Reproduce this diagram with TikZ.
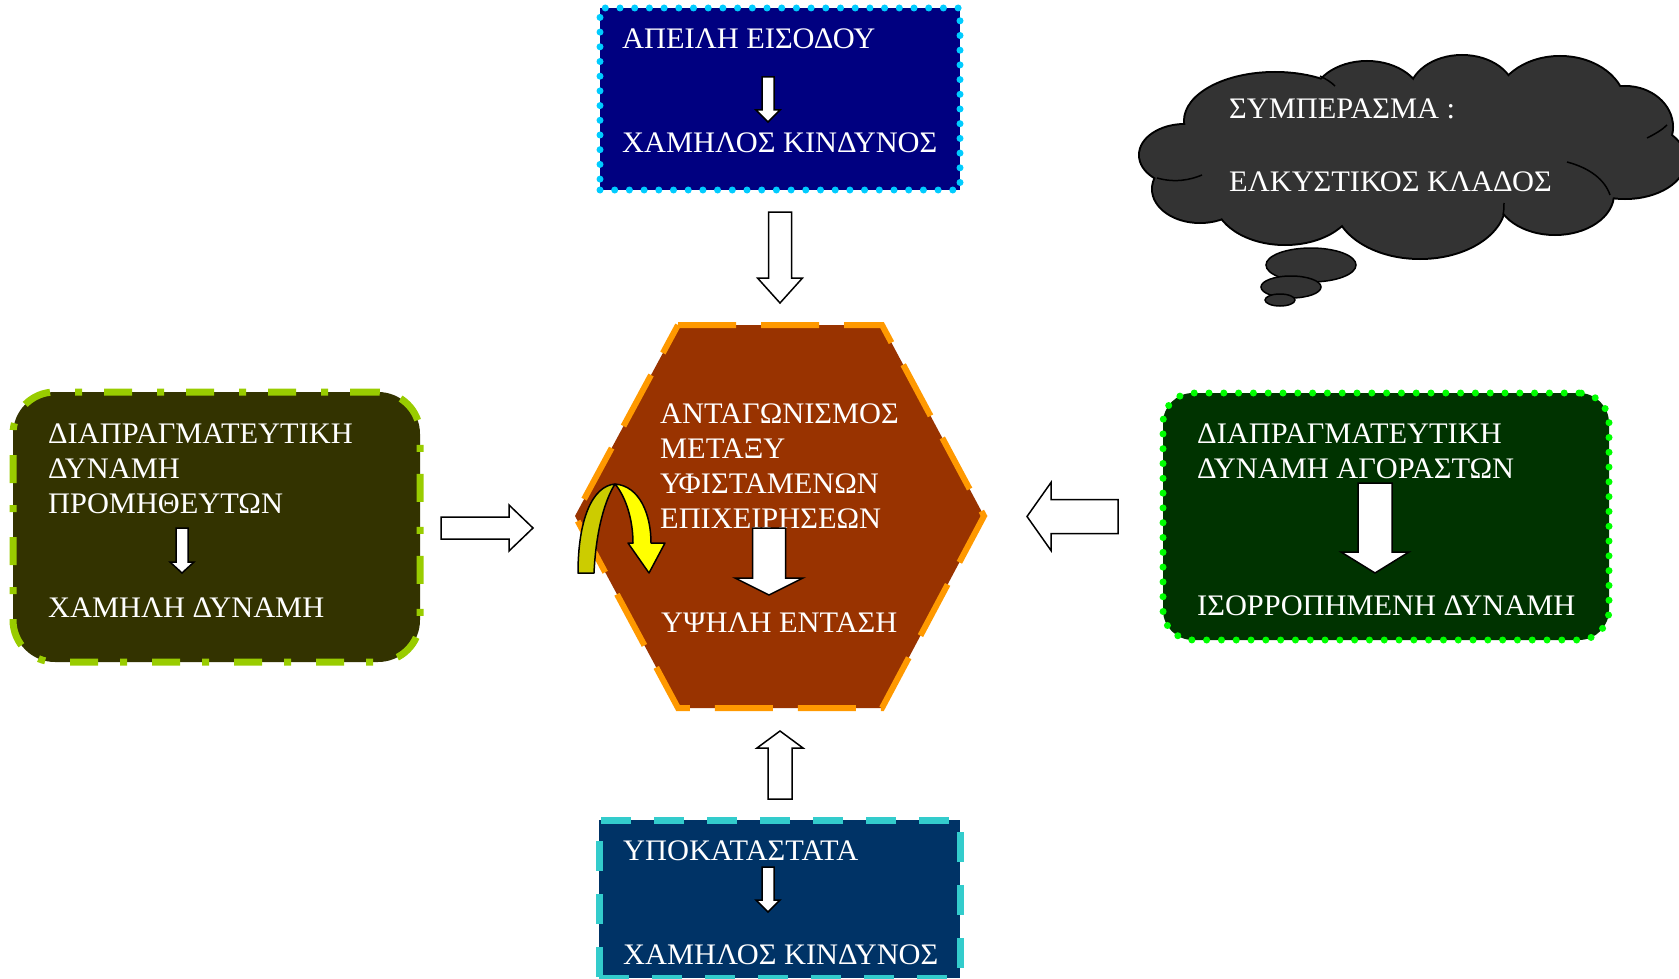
\documentclass[tikz,border=0pt]{standalone}
\usepackage{fontspec}
\setmainfont{Liberation Serif}[FakeStretch=1.02]
\definecolor{entryfill}{HTML}{000080}
\definecolor{entryline}{HTML}{00CCFF}
\definecolor{rivalfill}{HTML}{993300}
\definecolor{rivalline}{HTML}{FF9900}
\definecolor{supfill}{HTML}{333300}
\definecolor{supline}{HTML}{99CC00}
\definecolor{buyfill}{HTML}{003300}
\definecolor{buyline}{HTML}{00FF00}
\definecolor{subfill}{HTML}{003366}
\definecolor{subline}{HTML}{33CCCC}
\definecolor{cloudfill}{HTML}{333333}
\definecolor{ylwdark}{HTML}{CCCC00}
\definecolor{ylwbright}{HTML}{FFFF00}

% block arrow: tail centre x, y, direction, length, shaft half-width, head half-width, head length
\newcommand{\blockarr}[7]{%
  \begin{scope}[shift={(#1,#2)},rotate=#3]
    \draw[barrow] (0,-#5) -- ({#4-#7},-#5) -- ({#4-#7},-#6) -- (#4,0)
      -- ({#4-#7},#6) -- ({#4-#7},#5) -- (0,#5) -- cycle;
  \end{scope}}

% lobes of the thought cloud
\newcommand{\cloudlobes}[1]{%
  \path[#1] (1185,155) ellipse [x radius=45, y radius=30];
  \path[#1] (1275,121) ellipse [x radius=90, y radius=48];
  \path[#1] (1367,102) ellipse [x radius=55, y radius=40];
  \path[#1] (1462,94)  ellipse [x radius=52, y radius=38];
  \path[#1] (1560,107) ellipse [x radius=65, y radius=50];
  \path[#1] (1625,127) ellipse [x radius=47, y radius=40];
  \path[#1] (1625,160) ellipse [x radius=60, y radius=38];
  \path[#1] (1555,194) ellipse [x radius=58, y radius=40];
  \path[#1] (1420,202) ellipse [x radius=85, y radius=56];
  \path[#1] (1285,198) ellipse [x radius=70, y radius=46];
  \path[#1] (1200,189) ellipse [x radius=47, y radius=33];
  \path[#1] (1400,150) ellipse [x radius=200, y radius=60];}

\begin{document}
\begin{tikzpicture}[x=1pt,y=-1pt,
  txt/.style={text=white, inner sep=0pt, anchor=base west,
    font=\fontsize{29.8}{35}\selectfont},
  barrow/.style={draw=black, fill=white, line width=1.5pt, line join=miter},
  boxbase/.style={rectangle, inner sep=0pt, line width=7pt},
  entrybox/.style={boxbase, fill=entryfill, draw=entryline,
    dash pattern=on 0pt off 14.7pt, line cap=round},
  supbox/.style={boxbase, fill=supfill, draw=supline, rounded corners=42pt,
    dash pattern=on 28pt off 22pt on 7pt off 25pt},
  buybox/.style={boxbase, fill=buyfill, draw=buyline, rounded corners=30pt,
    dash pattern=on 0pt off 14.8pt, line cap=round},
  subbox/.style={boxbase, fill=subfill, draw=subline,
    dash pattern=on 30pt off 23pt},
  hexborder/.style={fill=rivalfill, draw=rivalline, line width=6pt,
    dash pattern=on 58pt off 25pt},
  bubble/.style={fill=cloudfill, draw=black, line width=1.5pt},
  yarrow/.style={draw=black, line width=1.5pt, line join=round}]
\useasboundingbox (0,0) rectangle (1679,979);

% the five forces
\node[entrybox, minimum width=360pt, minimum height=182pt] (entry) at (780,99) {};
\node[supbox, minimum width=407pt, minimum height=270pt] (suppliers) at (216.5,527) {};
\node[buybox, minimum width=446pt, minimum height=247pt] (buyers) at (1386,516.5) {};
\node[subbox, minimum width=361pt, minimum height=158pt] (substitutes) at (779.5,899) {};
\draw[hexborder] (678,325) -- (882,325) -- (984,516) -- (882,708) -- (678,708) -- (575,516) -- cycle;
\coordinate (rival) at (780,516);

% thought cloud with its trailing bubbles
\cloudlobes{draw=black, line width=4pt}
\cloudlobes{fill=cloudfill}
\coordinate (verdict) at (1400,150);
\draw[line width=1.5pt] (1157,178) .. controls (1175,183) and (1190,180) .. (1202,175);
\draw[line width=1.5pt] (1567,162) .. controls (1590,168) and (1605,180) .. (1610,195);
\draw[line width=1.5pt] (1647,138) .. controls (1655,134) and (1662,130) .. (1667,125);
\draw[line width=1.5pt] (1320,76) .. controls (1326,79) and (1331,82) .. (1335,86);
\draw[line width=1.5pt] (1503,215) .. controls (1504,210) and (1504,207) .. (1504,203);
\path[bubble] (1311,265) ellipse [x radius=45, y radius=17];
\path[bubble] (1291,287) ellipse [x radius=30, y radius=11];
\path[bubble] (1280,300) ellipse [x radius=15, y radius=6];

% texts
\node[txt] (entryA) at (622,49) {ΑΠΕΙΛΗ ΕΙΣΟΔΟΥ};
\node[txt] (entryB) at (622,153) {ΧΑΜΗΛΟΣ ΚΙΝΔΥΝΟΣ};
\node[txt] (supA) at (48,443) {\begin{tabular}[t]{@{}l@{}}ΔΙΑΠΡΑΓΜΑΤΕΥΤΙΚΗ\\ΔΥΝΑΜΗ\\ΠΡΟΜΗΘΕΥΤΩΝ\end{tabular}};
\node[txt] (supB) at (48,617) {ΧΑΜΗΛΗ ΔΥΝΑΜΗ};
\node[txt] (buyA) at (1197,443) {\begin{tabular}[t]{@{}l@{}}ΔΙΑΠΡΑΓΜΑΤΕΥΤΙΚΗ\\ΔΥΝΑΜΗ ΑΓΟΡΑΣΤΩΝ\end{tabular}};
\node[txt] (buyB) at (1197,615) {ΙΣΟΡΡΟΠΗΜΕΝΗ ΔΥΝΑΜΗ};
\node[txt] (subA) at (623,860) {ΥΠΟΚΑΤΑΣΤΑΤΑ};
\node[txt] (subB) at (623,964) {ΧΑΜΗΛΟΣ ΚΙΝΔΥΝΟΣ};
\node[txt] (rivalA) at (660,423) {\begin{tabular}[t]{@{}l@{}}ΑΝΤΑΓΩΝΙΣΜΟΣ\\ΜΕΤΑΞΥ\\ΥΦΙΣΤΑΜΕΝΩΝ\\ΕΠΙΧΕΙΡΗΣΕΩΝ\end{tabular}};
\node[txt] (rivalB) at (661,632) {ΥΨΗΛΗ ΕΝΤΑΣΗ};
\node[txt] (verdictA) at (1229,119) {ΣΥΜΠΕΡΑΣΜΑ :};
\node[txt] (verdictB) at (1229,191) {ΕΛΚΥΣΤΙΚΟΣ ΚΛΑΔΟΣ};

% arrows between the forces
\blockarr{780}{212}{-90}{91}{11.5}{22.5}{25}
\blockarr{780}{799}{90}{68}{12}{23}{17}
\blockarr{441}{528}{0}{92}{11}{23}{24}
\blockarr{1118}{516.5}{180}{91}{17}{34}{24}

% arrows inside the boxes
\blockarr{768}{77}{-90}{45}{6}{12}{12}
\blockarr{182}{528}{-90}{45}{6}{12}{11}
\blockarr{768}{867}{-90}{45}{6}{12}{12}
\blockarr{769}{528}{-90}{67}{16.5}{34}{17}
\blockarr{1375}{483}{-90}{90}{17}{34}{21}

% curved arrow at the rivalry hexagon
\filldraw[yarrow, fill=ylwdark] (578,573) .. controls (578,520) and (592,486) .. (615,484)
  .. controls (605,500) and (596,530) .. (594,573) -- cycle;
\filldraw[yarrow, fill=ylwbright] (615,484) .. controls (640,486) and (651,515) .. (651,543)
  -- (665,543) -- (649,573) -- (628,543) -- (633,543)
  .. controls (633,520) and (626,497) .. (615,484) -- cycle;
\end{tikzpicture}
\end{document}
